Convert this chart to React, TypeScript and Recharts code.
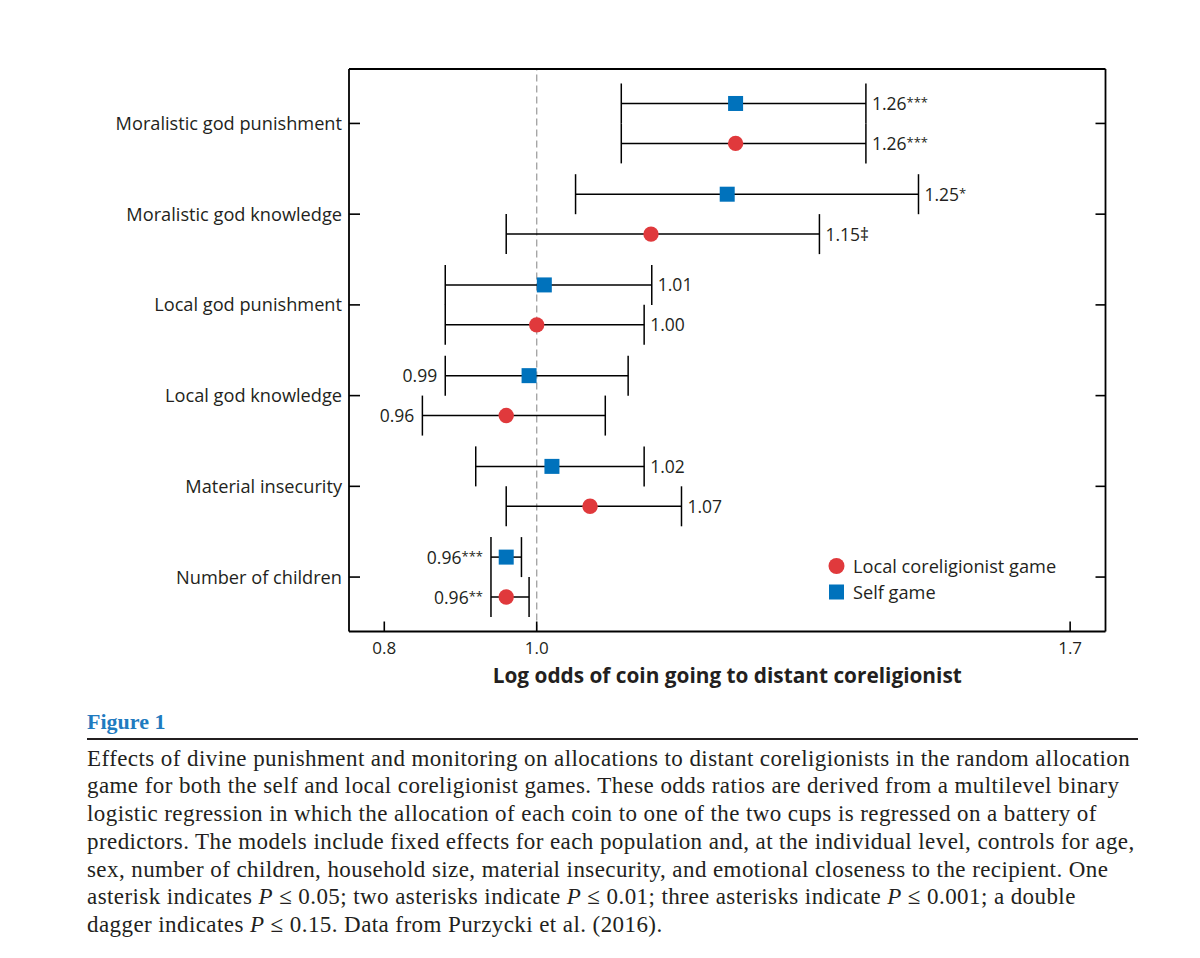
import React from 'react';
import { ComposedChart, Scatter, XAxis, YAxis, ErrorBar, ReferenceLine, Legend } from 'recharts';

const categories = [
  'Moralistic god punishment',
  'Moralistic god knowledge',
  'Local god punishment',
  'Local god knowledge',
  'Material insecurity',
  'Number of children',
];

const selfEst = [1.261, 1.25, 1.01, 0.99, 1.02, 0.96];
const selfLo = [1.111, 1.051, 0.88, 0.88, 0.92, 0.94];
const selfHi = [1.432, 1.501, 1.151, 1.12, 1.141, 0.98];
const selfLabel = ['1.26', '1.25', '1.01', '0.99', '1.02', '0.96'];
const selfSig = ['***', '*', '', '', '', '***'];
const selfSide = ['right', 'right', 'right', 'left', 'right', 'left'];

const localEst = [1.261, 1.15, 1.0, 0.96, 1.07, 0.96];
const localLo = [1.111, 0.96, 0.88, 0.85, 0.96, 0.94];
const localHi = [1.432, 1.371, 1.141, 1.09, 1.19, 0.99];
const localLabel = ['1.26', '1.15', '1.00', '0.96', '1.07', '0.96'];
const localSig = ['***', '‡', '', '', '', '**'];
const localSide = ['right', 'right', 'right', 'left', 'right', 'left'];

const xTicks = [0.8, 1.0, 1.7];
const yTicks = [0, 1, 2, 3, 4, 5];

const RED = '#e0393c';
const BLUE = '#0072bc';
const INK = '#231f20';
const FONT = '"Open Sans", sans-serif';
const SERIF = '"Liberation Serif", "Times New Roman", serif';
const OFF = 0.22;

const selfData = categories.map((c, i) => ({
  x: selfEst[i], y: i - OFF, err: [selfEst[i] - selfLo[i], selfHi[i] - selfEst[i]],
}));
const localData = categories.map((c, i) => ({
  x: localEst[i], y: i + OFF, err: [localEst[i] - localLo[i], localHi[i] - localEst[i]],
}));
const labelData = [
  ...categories.map((c, i) => ({
    x: selfSide[i] === 'left' ? selfLo[i] : selfHi[i], y: i - OFF,
    text: selfLabel[i], sig: selfSig[i], side: selfSide[i],
  })),
  ...categories.map((c, i) => ({
    x: localSide[i] === 'left' ? localLo[i] : localHi[i], y: i + OFF,
    text: localLabel[i], sig: localSig[i], side: localSide[i],
  })),
];

const Square = (p: any) => <rect x={p.cx - 7.5} y={p.cy - 7.5} width={15} height={15} fill={BLUE} />;
const Dot = (p: any) => <circle cx={p.cx} cy={p.cy} r={7.7} fill={RED} />;
const LabelShape = (p: any) => {
  const { cx, cy, payload } = p;
  const left = payload.side === 'left';
  const dagger = payload.sig === '‡';
  return (
    <text x={left ? cx - 8 : cx + 6} y={cy + 6.5} textAnchor={left ? 'end' : 'start'}
      fontSize={17.5} fontFamily={FONT} fill={INK}>
      {payload.text + (dagger ? '‡' : '')}
      {payload.sig && !dagger ? <tspan fontSize={13} dy={-3}>{payload.sig}</tspan> : null}
    </text>
  );
};

const LegendContent = () => (
  <div style={{ fontFamily: FONT, fontSize: 18.2, color: INK, lineHeight: '26px' }}>
    <div style={{ display: 'flex', alignItems: 'center' }}>
      <svg width={27} height={20}><circle cx={10.5} cy={10} r={8} fill={RED} /></svg>
      <span>Local coreligionist game</span>
    </div>
    <div style={{ display: 'flex', alignItems: 'center' }}>
      <svg width={27} height={20}><rect x={3} y={2.5} width={15} height={15} fill={BLUE} /></svg>
      <span>Self game</span>
    </div>
  </div>
);

const axisLine = { stroke: '#000', strokeWidth: 1.8 };
const tickLine = { stroke: '#000', strokeWidth: 1.6 };
const xDomain = [0.7537, 1.7464];
const yDomain = [-0.6, 5.6];

const captionLines = [
  'Effects of divine punishment and monitoring on allocations to distant coreligionists in the random allocation',
  'game for both the self and local coreligionist games. These odds ratios are derived from a multilevel binary',
  'logistic regression in which the allocation of each coin to one of the two cups is regressed on a battery of',
  'predictors. The models include fixed effects for each population and, at the individual level, controls for age,',
  'sex, number of children, household size, material insecurity, and emotional closeness to the recipient. One',
];

export default function App() {
  return (
    <div style={{ position: 'absolute', left: 0, top: 0, width: 1200, height: 958, background: '#fff' }}>
      <ComposedChart width={1200} height={700} margin={{ top: 39, right: 0, bottom: 0, left: 0 }}>
        <XAxis xAxisId="b" type="number" dataKey="x" domain={xDomain} allowDataOverflow ticks={xTicks}
          tickFormatter={(v: number) => v.toFixed(1)} orientation="bottom" height={68.5}
          tickSize={-10} tickMargin={20} axisLine={axisLine} tickLine={tickLine}
          tick={{ fill: INK, fontSize: 17, fontFamily: FONT }}
          label={{ value: 'Log odds of coin going to distant coreligionist', position: 'insideBottom', offset: 17,
            style: { fontFamily: FONT, fontWeight: 700, fontSize: 20.8, fill: INK } }} />
        <XAxis xAxisId="t" type="number" domain={xDomain} allowDataOverflow ticks={xTicks}
          tickFormatter={() => ''} orientation="top" height={30} tickSize={-10}
          axisLine={axisLine} tickLine={tickLine} />
        <YAxis yAxisId="l" type="number" dataKey="y" domain={yDomain} allowDataOverflow reversed ticks={yTicks}
          tickFormatter={(v: number) => categories[v]} width={349} tickSize={-11} tickMargin={18}
          axisLine={axisLine} tickLine={tickLine} interval={0}
          tick={{ fill: INK, fontSize: 18.2, fontFamily: FONT }} />
        <YAxis yAxisId="r" type="number" orientation="right" domain={yDomain} allowDataOverflow reversed ticks={yTicks}
          tickFormatter={() => ''} width={94.5} tickSize={-10} axisLine={axisLine} tickLine={tickLine} interval={0} />
        <ReferenceLine xAxisId="b" yAxisId="l" x={1} stroke="#a6a6a6" strokeWidth={1.4} strokeDasharray="7 4" />
        <Scatter name="Self game" data={selfData} xAxisId="b" yAxisId="l" shape={Square} isAnimationActive={false}>
          <ErrorBar dataKey="err" direction="x" width={20} stroke="#000" strokeWidth={1.5} isAnimationActive={false} />
        </Scatter>
        <Scatter name="Local coreligionist game" data={localData} xAxisId="b" yAxisId="l" shape={Dot} isAnimationActive={false}>
          <ErrorBar dataKey="err" direction="x" width={20} stroke="#000" strokeWidth={1.5} isAnimationActive={false} />
        </Scatter>
        <Scatter name="labels" data={labelData} xAxisId="b" yAxisId="l" shape={LabelShape} isAnimationActive={false} legendType="none" />
        <Legend layout="horizontal" verticalAlign="middle" align="center" content={LegendContent}
          wrapperStyle={{ left: 826, top: 553, width: 300 }} />
      </ComposedChart>
      <div style={{ position: 'absolute', left: 87, top: 710.6, fontFamily: SERIF, fontWeight: 700, fontSize: 22,
        lineHeight: '22px', color: '#1f7bbf' }}>Figure 1</div>
      <div style={{ position: 'absolute', left: 87, top: 738.3, width: 1051, height: 2, background: INK }} />
      <div style={{ position: 'absolute', left: 87, top: 744.5, fontFamily: SERIF, fontSize: 23, lineHeight: '27.8px',
        letterSpacing: '0.42px', color: INK, whiteSpace: 'nowrap' }}>
        {captionLines.map((l, i) => <div key={i}>{l}</div>)}
        <div>asterisk indicates <i>P</i> ≤ 0.05; two asterisks indicate <i>P</i> ≤ 0.01; three asterisks indicate <i>P</i> ≤ 0.001; a double</div>
        <div>dagger indicates <i>P</i> ≤ 0.15. Data from Purzycki et al. (2016).</div>
      </div>
    </div>
  );
}
